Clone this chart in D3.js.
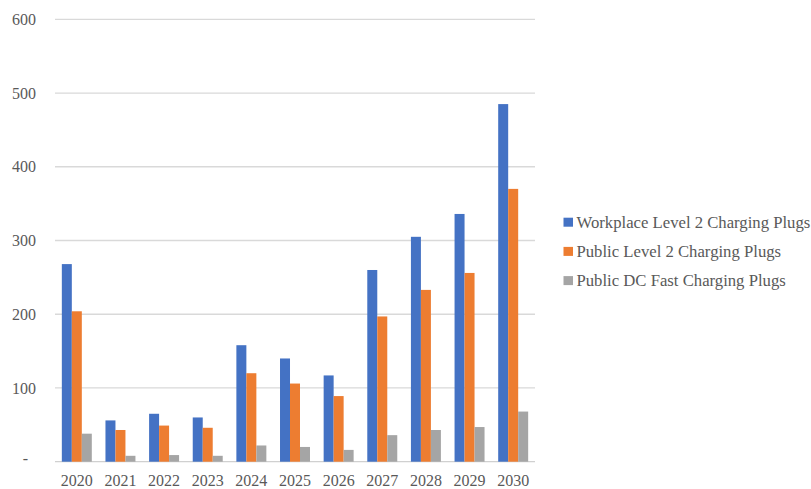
<!DOCTYPE html>
<html><head><meta charset="utf-8">
<script src="https://cdn.jsdelivr.net/npm/d3@7"></script>
<style>body{margin:0;background:#fff;} svg{display:block;} text{font-family:"Liberation Serif","Times New Roman",serif;}</style>
</head><body>
<svg id="c" width="811" height="489"></svg>
<script>
const years = ["2020","2021","2022","2023","2024","2025","2026","2027","2028","2029","2030"];
const seriesNames = ["Workplace Level 2 Charging Plugs","Public Level 2 Charging Plugs","Public DC Fast Charging Plugs"];
const workplaceL2 = [268, 56, 65, 60, 158, 140, 117, 260, 305, 336, 485];
const publicL2 = [204, 43, 49, 46, 120, 106, 89, 197, 233, 256, 370];
const publicDC = [38, 8, 9, 8, 22, 20, 16, 36, 43, 47, 68];
const colors = ["#4472C4","#ED7D31","#A5A5A5"];
const yTicks = [0,100,200,300,400,500,600];

(function(){
const svg = d3.select("#c");
const mLeft = 55, mRight = 535, mTop = 19.3, mBottom = 461.7;
const x = d3.scaleBand().domain(years).range([mLeft,mRight]).paddingInner(0.313).paddingOuter(0.1565);
const x1 = d3.scaleBand().domain([0,1,2]).range([0,x.bandwidth()]);
const y = d3.scaleLinear().domain([0,600]).range([mBottom,mTop]);

svg.append("g").selectAll("line").data(yTicks).join("line")
  .attr("x1",mLeft).attr("x2",mRight)
  .attr("y1",d=>y(d)).attr("y2",d=>y(d))
  .attr("stroke",d=>d===0?"#d0d0d0":"#d9d9d9").attr("stroke-width",1.3);

svg.append("g").selectAll("text").data(yTicks).join("text")
  .attr("x",d=>d===0?28:36).attr("y",d=>d===0?y(d)-3:y(d))
  .attr("dy","0.35em").attr("text-anchor","end")
  .attr("font-size",16).attr("fill","#595959")
  .text(d=>d===0?"-":d);

const data = [workplaceL2, publicL2, publicDC];
data.forEach((vals,si)=>{
  svg.append("g").selectAll("rect").data(vals).join("rect")
    .attr("x",(d,i)=>x(years[i])+x1(si))
    .attr("width",x1.bandwidth())
    .attr("y",d=>y(d)).attr("height",d=>y(0)-y(d))
    .attr("fill",colors[si]);
});

svg.append("g").selectAll("text").data(years).join("text")
  .attr("x",d=>x(d)+x.bandwidth()/2).attr("y",486)
  .attr("text-anchor","middle")
  .attr("font-size",16).attr("fill","#595959")
  .text(d=>d);

const lg = svg.append("g");
seriesNames.forEach((n,i)=>{
  const cy = 221.7 + i*29.2;
  lg.append("rect").attr("x",563.5).attr("y",cy-4).attr("width",9.5).attr("height",9).attr("fill",colors[i]);
  lg.append("text").attr("x",576.5).attr("y",cy).attr("dy","0.35em")
    .attr("font-size",16.7).attr("fill","#595959").text(n);
});
})();
</script>
</body></html>
